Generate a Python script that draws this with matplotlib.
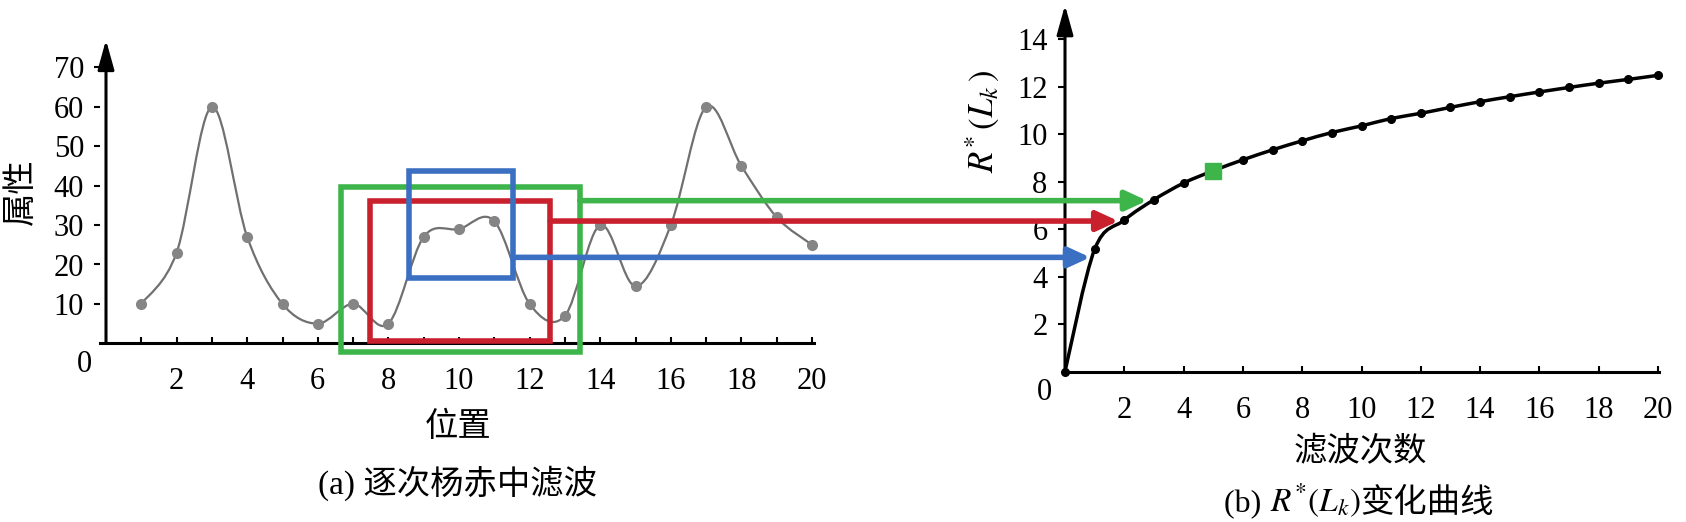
import matplotlib
matplotlib.use("Agg")
import matplotlib.pyplot as plt
import numpy as np
from matplotlib.path import Path
from matplotlib.patches import PathPatch, Rectangle, ConnectionPatch
from matplotlib.transforms import blended_transform_factory

plt.rcParams['font.family'] = ['Liberation Serif', 'Noto Sans CJK SC']
plt.rcParams['mathtext.fontset'] = 'stix'

# ---------------- data ----------------
pos = list(range(1, 21))
attr = [10, 23, 60, 27, 10, 5, 10, 5, 27, 29, 31, 10, 7, 30, 14.5, 30, 60, 45, 32, 25]

n_filter = list(range(0, 21))
r_star = [0, 5.15, 6.38, 7.24, 7.94, 8.46, 8.92, 9.34, 9.72, 10.07, 10.35,
          10.66, 10.88, 11.13, 11.37, 11.58, 11.78, 11.97, 12.15, 12.31, 12.48]
highlight_k = 5

left_xticks = list(range(2, 21, 2))
left_yticks = list(range(10, 71, 10))
right_xticks = list(range(2, 21, 2))
right_yticks = list(range(2, 15, 2))

# filter windows (x0, x1, y0, y1) on panel (a), and the R* value each one points to
win_green = (6.65, 13.42, -2.1, 39.7)
win_red = (7.49, 12.58, 0.66, 36.1)
win_blue = (8.58, 11.52, 16.5, 43.8)
arrow_green = (7.2, 2.77)
arrow_red = (6.34, 1.80)
arrow_blue = (4.81, 0.85)

label_a_y = '属性'
label_a_x = '位置'
caption_a = '(a) 逐次杨赤中滤波'
label_b_x = '滤波次数'
label_b_y = r'$R^{*}\,(L_k\,)$'

C_GREEN = '#3db54a'
C_RED = '#c9202e'
C_BLUE = '#3b6fc2'

W, H = 1686, 522
fig = plt.figure(figsize=(W / 100, H / 100), dpi=100)


def px_axes(left, top, width, height):
    return fig.add_axes([left / W, 1 - (top + height) / H, width / W, height / H])


def smooth_path(xs, ys):
    n = len(xs)
    verts = [(xs[0], ys[0])]
    codes = [Path.MOVETO]
    for i in range(n - 1):
        p0 = i - 1 if i > 0 else i
        p3 = i + 2 if i + 2 < n else i + 1
        c1 = (xs[i] + (xs[i + 1] - xs[p0]) / 6, ys[i] + (ys[i + 1] - ys[p0]) / 6)
        c2 = (xs[i + 1] - (xs[p3] - xs[i]) / 6, ys[i + 1] - (ys[p3] - ys[i]) / 6)
        verts += [c1, c2, (xs[i + 1], ys[i + 1])]
        codes += [Path.CURVE4] * 3
    return Path(verts, codes)


TICKFS = 22
CJKFS = 24

# ---------------- panel (a) ----------------
x0a, ux_a = 106.0, 35.3
y0a, uy_a = 343.3, 3.94
xl_a = (-0.17, 20.06)
yl_a = (0, 77)
ax1 = px_axes(x0a + xl_a[0] * ux_a, y0a - yl_a[1] * uy_a,
              (xl_a[1] - xl_a[0]) * ux_a, (yl_a[1] - yl_a[0]) * uy_a)
ax1.set_xlim(*xl_a)
ax1.set_ylim(*yl_a)
ax1.patch.set_alpha(0)
for s in ['top', 'right', 'left']:
    ax1.spines[s].set_visible(False)
ax1.spines['bottom'].set_linewidth(2.2)
ax1.annotate('', xy=(0, yl_a[1]), xytext=(0, 0), xycoords='data',
             arrowprops=dict(arrowstyle='-|>,head_length=0.9,head_width=0.25',
                             lw=2.2, color='black', shrinkA=0, shrinkB=0,
                             mutation_scale=20), annotation_clip=False)
ax1.set_xticks(left_xticks)
ax1.set_xticklabels([str(v) for v in left_xticks])
ax1.set_xticks([v for v in pos if v not in left_xticks], minor=True)
ax1.tick_params(axis='x', which='both', direction='in', length=4, width=1.5,
                pad=17, labelsize=TICKFS)
ax1.set_yticks(left_yticks)
ax1.set_yticklabels([str(v) for v in left_yticks])
ax1.tick_params(axis='y', direction='out', length=4.5, width=1.5, pad=7,
                labelsize=TICKFS)

ax1.add_patch(PathPatch(smooth_path(pos, attr), fill=False, ec='#707070', lw=1.6))
ax1.plot(pos, attr, ls='none', marker='o', ms=7, color='#858585', mec='#858585',
         clip_on=False)

for (bx0, bx1, by0, by1), c in [(win_green, C_GREEN), (win_red, C_RED), (win_blue, C_BLUE)]:
    ax1.add_patch(Rectangle((bx0, by0), bx1 - bx0, by1 - by0, fill=False,
                            ec=c, lw=4, clip_on=False, zorder=5))

fig.text(84 / W, 1 - 365 / H, '0', fontsize=TICKFS, ha='center', va='center')
fig.text(22 / W, 1 - 192 / H, label_a_y, fontsize=CJKFS, rotation=90,
         ha='center', va='center')
fig.text(458 / W, 1 - 427 / H, label_a_x, fontsize=CJKFS, ha='center', va='center')
fig.text(458 / W, 1 - 483 / H, caption_a, fontsize=CJKFS, ha='center', va='center')

# ---------------- panel (b) ----------------
x0b, ux_b = 1065.0, 29.65
y0b, uy_b = 371.5, 23.73
xl_b = (-0.05, 20.03)
yl_b = (0, 15.44)
ax2 = px_axes(x0b + xl_b[0] * ux_b, y0b - yl_b[1] * uy_b,
              (xl_b[1] - xl_b[0]) * ux_b, (yl_b[1] - yl_b[0]) * uy_b)
ax2.set_xlim(*xl_b)
ax2.set_ylim(*yl_b)
ax2.patch.set_alpha(0)
for s in ['top', 'right', 'left']:
    ax2.spines[s].set_visible(False)
ax2.spines['bottom'].set_linewidth(2.2)
ax2.annotate('', xy=(0, yl_b[1]), xytext=(0, 0), xycoords='data',
             arrowprops=dict(arrowstyle='-|>,head_length=0.9,head_width=0.25',
                             lw=2.2, color='black', shrinkA=0, shrinkB=0,
                             mutation_scale=20), annotation_clip=False)
ax2.set_xticks(right_xticks)
ax2.set_xticklabels([str(v) for v in right_xticks])
ax2.tick_params(axis='x', direction='in', length=4, width=1.5, pad=18,
                labelsize=TICKFS)
ax2.set_yticks(right_yticks)
ax2.set_yticklabels([str(v) for v in right_yticks])
ax2.tick_params(axis='y', direction='out', length=4.5, width=1.5, pad=7,
                labelsize=TICKFS)

ax2.add_patch(PathPatch(smooth_path(n_filter, r_star), fill=False, ec='black', lw=2.5,
                        zorder=3))
ax2.plot(n_filter, r_star, ls='none', marker='o', ms=5.5, color='black',
         clip_on=False, zorder=4)
ax2.plot([n_filter[highlight_k]], [r_star[highlight_k]], ls='none', marker='s',
         ms=11, color=C_GREEN, zorder=5)

fig.text(1044 / W, 1 - 393 / H, '0', fontsize=TICKFS, ha='center', va='center')
fig.text(983 / W, 1 - 122 / H, label_b_y, fontsize=25, rotation=90,
         ha='center', va='center')
fig.text(1360 / W, 1 - 453 / H, label_b_x, fontsize=CJKFS, ha='center', va='center')

# caption (b) built from pieces
renderer = fig.canvas.get_renderer()
pieces = [('(b) ', 23), (r'$R^{*}(L_k)$', 24), ('变化曲线', CJKFS)]
texts = []
for s, fs in pieces:
    t = fig.text(0, 1 - 512 / H, s, fontsize=fs, ha='left', va='baseline')
    texts.append(t)
widths = [t.get_window_extent(renderer=renderer).width for t in texts]
total = sum(widths)
cx = 1359
xpos = cx - total / 2
for t, w in zip(texts, widths):
    t.set_x(xpos / W)
    xpos += w

# ---------------- connecting arrows ----------------
blend = blended_transform_factory(ax1.transData, ax2.transData)
for (bx0, bx1, by0, by1), (yv, tip), c in [(win_green, arrow_green, C_GREEN),
                                            (win_red, arrow_red, C_RED),
                                            (win_blue, arrow_blue, C_BLUE)]:
    cp = ConnectionPatch(xyA=(bx1, yv), coordsA=blend, xyB=(tip, yv),
                         coordsB=ax2.transData,
                         arrowstyle='-|>,head_length=0.65,head_width=0.3',
                         mutation_scale=20, lw=4, color=c, shrinkA=0, shrinkB=0,
                         zorder=6)
    fig.add_artist(cp)

fig.savefig('out.png', dpi=100)
